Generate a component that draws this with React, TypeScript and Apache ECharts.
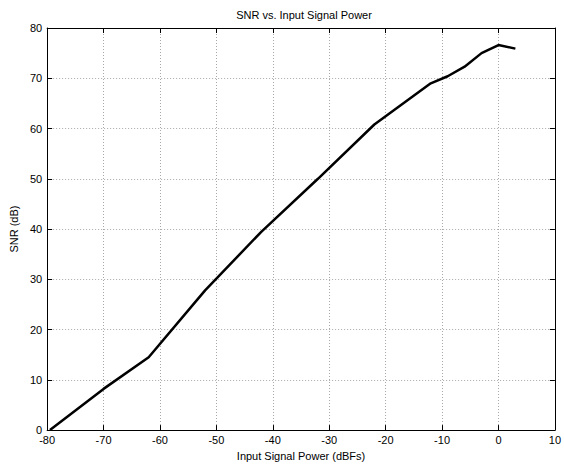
import React, { useEffect, useRef } from "react";
import * as echarts from "echarts";

const inputPower = [-79.5, -70, -62, -52, -42, -32, -22, -12, -9, -6, -3, 0, 3];
const snr = [0, 8.2, 14.5, 27.8, 39.5, 50.0, 60.8, 69.0, 70.4, 72.3, 75.0, 76.6, 75.9];

const xTicks = { min: -80, max: 10, interval: 10 };
const yTicks = { min: 0, max: 80, interval: 10 };

const FONT = "'Liberation Sans', Arial, Helvetica, sans-serif";

export default function App() {
  const ref = useRef<HTMLDivElement>(null);
  useEffect(() => {
    if (!ref.current) return;
    const chart = echarts.init(ref.current, null, { renderer: "svg" });
    const axisLine = { show: true, onZero: false, lineStyle: { color: "#000", width: 1 } };
    const grid = { show: true, lineStyle: { color: "#a8a8a8", type: [1, 2] as any, width: 1 } };
    const tick = { show: true, inside: true, length: 5, lineStyle: { color: "#000" } };
    const label = { color: "#000", fontSize: 11, fontFamily: FONT };
    chart.setOption({
      animation: false,
      backgroundColor: "#fff",
      title: {
        text: "SNR vs. Input Signal Power",
        left: 299,
        textAlign: "center",
        top: 4,
        textStyle: { fontSize: 11, fontWeight: "normal", color: "#000", fontFamily: FONT },
      },
      grid: { left: 43, right: 8, top: 28, bottom: 33, show: false },
      xAxis: [
        {
          type: "value",
          position: "bottom",
          ...xTicks,
          axisLine,
          axisTick: tick,
          splitLine: grid,
          axisLabel: { ...label, margin: 4 },
          name: "Input Signal Power (dBFs)",
          nameLocation: "middle",
          nameGap: 19,
          nameTextStyle: { ...label },
        },
        {
          type: "value",
          position: "top",
          ...xTicks,
          axisLine,
          axisTick: tick,
          splitLine: { show: false },
          axisLabel: { show: false },
        },
      ],
      yAxis: [
        {
          type: "value",
          position: "left",
          ...yTicks,
          axisLine,
          axisTick: tick,
          splitLine: grid,
          axisLabel: { ...label, margin: 5 },
          name: "SNR (dB)",
          nameLocation: "middle",
          nameGap: 26,
          nameRotate: 90,
          nameTextStyle: { ...label },
        },
        {
          type: "value",
          position: "right",
          ...yTicks,
          axisLine,
          axisTick: tick,
          splitLine: { show: false },
          axisLabel: { show: false },
        },
      ],
      series: [
        {
          type: "line",
          xAxisIndex: 0,
          yAxisIndex: 0,
          data: inputPower.map((x, i) => [x, snr[i]]),
          showSymbol: false,
          lineStyle: { color: "#000", width: 2.5 },
          clip: false,
        },
      ],
    });
    return () => chart.dispose();
  }, []);
  return <div ref={ref} style={{ width: 564, height: 466, position: "absolute", left: 0, top: 0 }} />;
}
